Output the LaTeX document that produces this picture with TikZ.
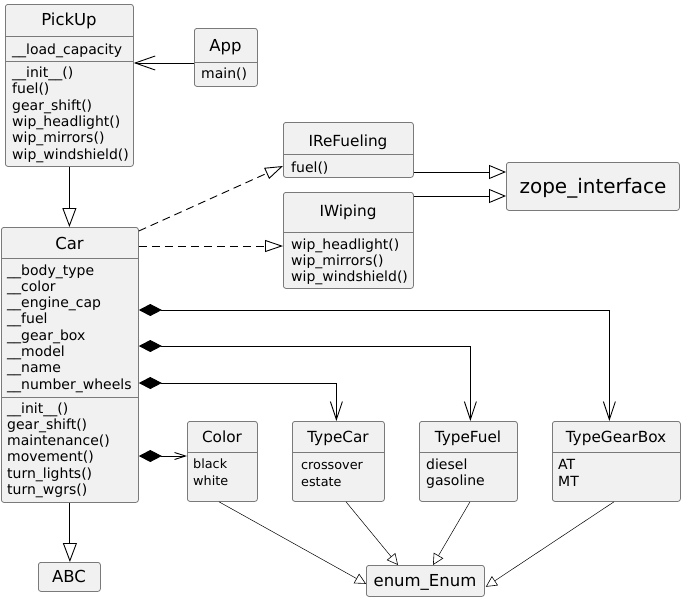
\documentclass[tikz,border=0pt]{standalone}
\usepackage{fontspec}
\setmainfont{DejaVu Sans}
\usetikzlibrary{arrows.meta,calc}
\definecolor{boxfill}{HTML}{F1F1F1}
\definecolor{boxline}{HTML}{7A7A7A}
\newcommand\memlines[6]{% style, name prefix, x, first baseline, step, list
  \foreach \itm [count=\i] in {#6} {\node[#1] (#2\i) at (#3,{#4+(\i-1)*#5}) {\itm};}}
\begin{document}
\begin{tikzpicture}[x=1pt,y=-1pt,
  cls/.style={draw=boxline, fill=boxfill, rounded corners=2.5pt, line width=0.8pt, inner sep=0pt, anchor=north west},
  sepl/.style={draw=boxline, line width=0.8pt},
  ttl/.style={font=\fontsize{16.5}{19}\selectfont, inner sep=0pt, anchor=base},
  ttls/.style={font=\fontsize{15.3}{18}\selectfont, inner sep=0pt, anchor=base},
  memb/.style={font=\fontsize{14}{16}\selectfont, inner sep=0pt, anchor=base west},
  membs/.style={font=\fontsize{12.8}{16}\selectfont, inner sep=0pt, anchor=base west},
  conn/.style={line width=0.9pt, draw=black},
  gen/.style={conn, -{Triangle[open, length=19pt, width=14pt, line width=0.9pt]}},
  gentwo/.style={conn, -{Triangle[open, length=17pt, width=14pt, line width=0.9pt]}},
  real/.style={conn, dash pattern=on 8pt off 5pt, -{Triangle[open, length=18pt, width=12pt, line width=0.9pt]}},
  vee/.style={conn, -{Straight Barb[length=20pt, width=14pt]}},
  comp/.style={conn, {Diamond[length=23pt, width=12pt]}-{Straight Barb[length=18pt, width=12pt]}},
  compsmall/.style={conn, {Diamond[length=23pt, width=12pt]}-{Straight Barb[length=11pt, width=7pt]}},
  enumg/.style={line width=0.5pt, draw=black, -{Triangle[open, length=11pt, width=11pt, line width=0.6pt]}}
]
\useasboundingbox (0,0) rectangle (695,613);

% ---------- PickUp ----------
\node[cls, minimum width=128pt, minimum height=162pt] (PickUp) at (5,4) {};
\draw[sepl] ([yshift=-32pt]PickUp.north west) -- ([yshift=-32pt]PickUp.north east);
\draw[sepl] ([yshift=-57pt]PickUp.north west) -- ([yshift=-57pt]PickUp.north east);
\node[ttl] (PickUpT) at (69,25.5) {PickUp};
\memlines{memb}{PickUpA}{12}{54}{16.3}{\_\_load\_capacity}
\memlines{memb}{PickUpM}{12}{77.5}{16.3}{\_\_init\_\_(), fuel(), gear\_shift(), wip\_headlight(), wip\_mirrors(), wip\_windshield()}

% ---------- App ----------
\node[cls, minimum width=63pt, minimum height=58pt] (App) at (194,28) {};
\draw[sepl] ([yshift=-34pt]App.north west) -- ([yshift=-34pt]App.north east);
\node[ttl] (AppT) at (225.5,51) {App};
\memlines{memb}{AppM}{201}{78}{16.3}{main()}

% ---------- IReFueling ----------
\node[cls, minimum width=130pt, minimum height=55pt] (IReFueling) at (283,122) {};
\draw[sepl] ([yshift=-32pt]IReFueling.north west) -- ([yshift=-32pt]IReFueling.north east);
\node[ttls] (IReFuelingT) at (348,146) {IReFueling};
\memlines{memb}{IReFuelingM}{291}{172}{16.3}{fuel()}

% ---------- IWiping ----------
\node[cls, minimum width=130pt, minimum height=96pt] (IWiping) at (283,192) {};
\draw[sepl] ([yshift=-40pt]IWiping.north west) -- ([yshift=-40pt]IWiping.north east);
\node[ttls] (IWipingT) at (348,216) {IWiping};
\memlines{memb}{IWipingM}{291}{249.3}{16.3}{wip\_headlight(), wip\_mirrors(), wip\_windshield()}

% ---------- zope_interface ----------
\node[cls, minimum width=173pt, minimum height=48pt] (zope) at (506,162) {};
\node[font=\fontsize{20}{24}\selectfont, inner sep=0pt, anchor=base] (zopeT) at (593,193) {zope\_interface};

% ---------- Car ----------
\node[cls, minimum width=137pt, minimum height=275pt] (Car) at (1,227) {};
\draw[sepl] ([yshift=-31pt]Car.north west) -- ([yshift=-31pt]Car.north east);
\draw[sepl] ([yshift=-170pt]Car.north west) -- ([yshift=-170pt]Car.north east);
\node[ttl] (CarT) at (69.5,249) {Car};
\memlines{memb}{CarA}{7}{275}{16.3}{\_\_body\_type, \_\_color, \_\_engine\_cap, \_\_fuel, \_\_gear\_box, \_\_model, \_\_name, \_\_number\_wheels}
\memlines{memb}{CarM}{7}{413}{16.3}{\_\_init\_\_(), gear\_shift(), maintenance(), movement(), turn\_lights(), turn\_wgrs()}

% ---------- enums ----------
\node[cls, minimum width=70pt, minimum height=80pt] (Color) at (187,421) {};
\draw[sepl] ([yshift=-31pt]Color.north west) -- ([yshift=-31pt]Color.north east);
\node[ttls] (ColorT) at (222,442) {Color};
\memlines{membs}{ColorM}{193}{468}{17}{black, white}

\node[cls, minimum width=92pt, minimum height=80pt] (TypeCar) at (292,421) {};
\draw[sepl] ([yshift=-31pt]TypeCar.north west) -- ([yshift=-31pt]TypeCar.north east);
\node[ttls] (TypeCarT) at (338,442) {TypeCar};
\memlines{membs}{TypeCarM}{301}{469}{17}{crossover, estate}

\node[cls, minimum width=98pt, minimum height=80pt] (TypeFuel) at (419,421) {};
\draw[sepl] ([yshift=-31pt]TypeFuel.north west) -- ([yshift=-31pt]TypeFuel.north east);
\node[ttls] (TypeFuelT) at (468,442) {TypeFuel};
\memlines{memb}{TypeFuelM}{426}{469}{16.5}{diesel, gasoline}

\node[cls, minimum width=128pt, minimum height=80pt] (TypeGearBox) at (552,421) {};
\draw[sepl] ([yshift=-31pt]TypeGearBox.north west) -- ([yshift=-31pt]TypeGearBox.north east);
\node[ttls] (TypeGearBoxT) at (616,442) {TypeGearBox};
\memlines{memb}{TypeGearBoxM}{558}{469}{17}{AT, MT}

% ---------- ABC and enum_Enum ----------
\node[cls, minimum width=62pt, minimum height=29pt] (ABC) at (38,562) {};
\node[ttl] (ABCT) at (69,582.7) {ABC};
\node[cls, minimum width=118pt, minimum height=31pt] (enum) at (366,565) {};
\node[ttl] (enumT) at (425,586.5) {enum\_Enum};

% ---------- connectors ----------
\draw[gen] (PickUp.south) -- (PickUp.south |- Car.north);
\draw[gen] (Car.south) -- (Car.south |- ABC.north);
\draw[vee] ([yshift=-35pt]App.north west) -- ([yshift=-59pt]PickUp.north east);

\draw[real] ([yshift=-4pt]Car.north east) -- ([yshift=-44pt]IReFueling.north west);
\draw[real] ([yshift=-19pt]Car.north east) -- ([yshift=-54pt]IWiping.north west);
\draw[gentwo] ([yshift=-50pt]IReFueling.north east) -- ([yshift=-10pt]zope.north west);
\draw[gentwo] ([yshift=-4pt]IWiping.north east) -- ([yshift=-34pt]zope.north west);

\draw[comp] ([yshift=-83pt]Car.north east) -| ([xshift=-7pt]TypeGearBox.north);
\draw[comp] ([yshift=-119pt]Car.north east) -| ([xshift=2pt]TypeFuel.north);
\draw[comp] ([yshift=-156pt]Car.north east) -| ([xshift=-2pt]TypeCar.north);
\draw[compsmall] ([yshift=-229pt]Car.north east) -- ([yshift=-35pt]Color.north west);

\draw[enumg] ([xshift=32pt]Color.south west) -- ([yshift=13pt]enum.south west);
\draw[enumg] ([xshift=54pt]TypeCar.south west) -- ([xshift=32pt]enum.north west);
\draw[enumg] ([xshift=51pt]TypeFuel.south west) -- ([xshift=67pt]enum.north west);
\draw[enumg] ([xshift=62pt]TypeGearBox.south west) -- ([xshift=1pt,yshift=10pt]enum.south east);
\end{tikzpicture}
\end{document}
